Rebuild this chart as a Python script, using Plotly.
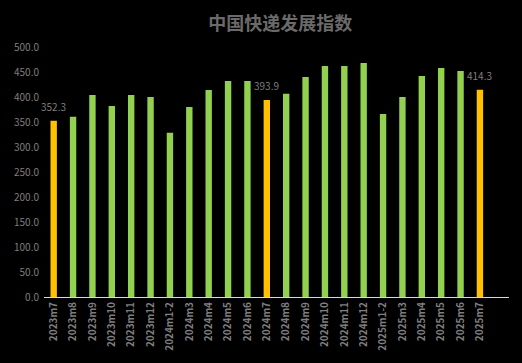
import plotly.graph_objects as go

categories = ["2023m7", "2023m8", "2023m9", "2023m10", "2023m11", "2023m12",
              "2024m1-2", "2024m3", "2024m4", "2024m5", "2024m6", "2024m7",
              "2024m8", "2024m9", "2024m10", "2024m11", "2024m12",
              "2025m1-2", "2025m3", "2025m4", "2025m5", "2025m6", "2025m7"]
values = [352.3, 360.6, 404.0, 382.0, 404.0, 400.0,
          328.6, 380.0, 414.0, 432.0, 432.0, 393.9,
          406.5, 440.0, 462.0, 462.0, 468.0,
          366.0, 400.0, 442.0, 458.0, 452.0, 414.3]
highlight = ["2023m7", "2024m7", "2025m7"]
yticks = [0, 50, 100, 150, 200, 250, 300, 350, 400, 450, 500]

GREEN = "#92D050"
ORANGE = "#FFC000"
GRAY = "#7f7f7f"

colors = [ORANGE if c in highlight else GREEN for c in categories]

fig = go.Figure(go.Bar(
    x=categories, y=values, marker_color=colors, marker_line_width=0,
    width=0.33, cliponaxis=False, hoverinfo="skip",
))

for c, v in zip(categories, values):
    if c in highlight:
        fig.add_annotation(x=c, y=v, text=f"{v:.1f}", showarrow=False,
                           yanchor="bottom", yshift=5,
                           font=dict(color=GRAY, size=10, family="Noto Sans CJK SC"))

fig.update_layout(
    width=522, height=363,
    paper_bgcolor="#000000", plot_bgcolor="#000000",
    margin=dict(l=44, r=13, t=47, b=66, autoexpand=False),
    title=dict(text="中国快递发展指数", x=0.537, xanchor="center", y=0.935, yanchor="middle",
               font=dict(family="Noto Sans CJK SC", size=18, color="#6a6a6a", weight="bold")),
    showlegend=False,
)
fig.update_xaxes(
    type="category", range=[-0.5, len(categories) + 0.5],
    tickangle=-90, tickfont=dict(family="Noto Sans CJK SC", size=10, color=GRAY, weight="bold"),
    showline=True, linecolor="#d9d9d9", linewidth=1, showgrid=False, ticks="",
    automargin=False,
)
fig.update_yaxes(
    range=[0, 500], tickvals=yticks, ticktext=[f"{t:.1f}" for t in yticks],
    tickfont=dict(family="Noto Sans CJK SC", size=10, color=GRAY),
    showgrid=False, zeroline=False, showline=False, ticks="",
    automargin=False, ticklabelstandoff=4,
)
fig.write_html(
    "out.html",
    config={"displayModeBar": False, "staticPlot": True},
    post_script="document.body.style.margin='0';document.body.style.background='#000';"
                "document.documentElement.style.overflow='hidden';",
)
